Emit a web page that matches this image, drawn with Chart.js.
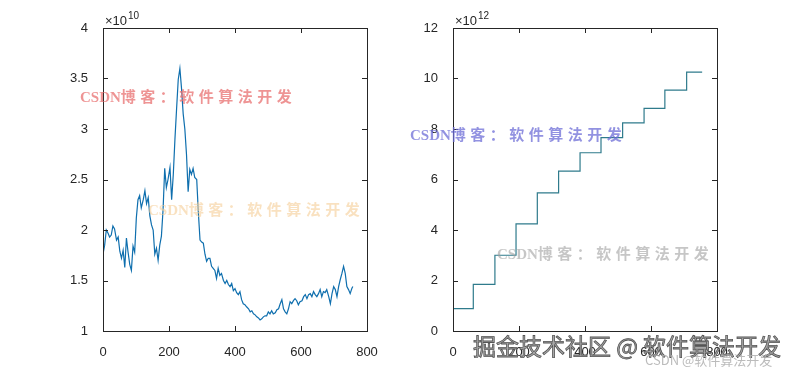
<!DOCTYPE html>
<html>
<head>
<meta charset="utf-8">
<script src="https://cdn.jsdelivr.net/npm/chart.js@4"></script>
<style>
	body { margin: 0; background: #fff; }
	#wrap { position: relative; width: 793px; height: 372px; overflow: hidden; }
	.box { position: absolute; top: 0; height: 372px; }
	.wm { position: absolute; white-space: nowrap; line-height: 1; pointer-events: none;
		font-family: "Liberation Serif", "Noto Sans CJK SC", serif; font-weight: bold; font-size: 15px; letter-spacing: 4.5px; }
	.wm span { letter-spacing: 0; }
	.big { position: absolute; white-space: nowrap; line-height: 1; pointer-events: none;
		font-family: "Noto Sans CJK SC", sans-serif; }
</style>
</head>
<body>
<div id="wrap">
	<div class="box" style="left:0;width:396px;"><canvas id="chartLeft" width="396" height="372"></canvas></div>
	<div class="box" style="left:396px;width:397px;"><canvas id="chartRight" width="397" height="372"></canvas></div>

	<div class="wm" style="left:80px;top:90px;color:rgba(232,112,112,0.75);"><span>CSDN</span>博客：软件算法开发</div>
	<div class="wm" style="left:148px;top:203px;color:rgba(245,205,150,0.6);"><span>CSDN</span>博客：软件算法开发</div>
	<div class="wm" style="left:410px;top:128px;color:rgba(110,110,215,0.75);"><span>CSDN</span>博客：软件算法开发</div>
	<div class="wm" style="left:497px;top:247px;color:rgba(160,160,160,0.6);"><span>CSDN</span>博客：软件算法开发</div>
	<div class="big" style="left:473px;top:334px;font-size:23px;color:#a8a8a8;-webkit-text-stroke:0.8px #555;">掘金技术社区 @ 软件算法开发</div>
	<div class="big" style="left:645px;top:353px;font-size:13px;color:rgba(175,175,175,0.85);">CSDN @软件算法开发</div>
</div>

<script>
// left series: x (index) and value in units of 1e10
var seriesX = [0, 5, 10, 15, 20, 25, 30, 35, 41, 46, 51, 56, 61, 66, 71, 76, 81, 86, 91, 96,
	101, 106, 111, 116, 122, 127, 132, 137, 142, 147, 152, 157, 162, 167, 172, 177, 182, 187, 192, 197,
	203, 208, 213, 218, 223, 228, 233, 238, 243, 248, 253, 258, 263, 268, 273, 278, 284, 289, 294, 299,
	304, 309, 314, 319, 324, 329, 334, 339, 344, 349, 354, 359, 365, 370, 375, 380, 385, 390, 395, 400,
	405, 410, 415, 420, 425, 430, 435, 441, 446, 451, 456, 461, 466, 471, 476, 481, 486, 491, 496, 501,
	506, 511, 516, 522, 527, 532, 537, 542, 547, 552, 557, 562, 567, 572, 577, 582, 587, 592, 597, 603,
	608, 613, 618, 623, 628, 633, 638, 643, 648, 653, 658, 663, 668, 673, 678, 684, 689, 694, 699, 704,
	709, 714, 719, 724, 729, 734, 739, 744, 749, 754, 757];
var seriesY = [1.76, 1.85, 2.00, 1.97, 1.93, 1.95, 2.04, 2.01, 1.90, 1.93, 1.79, 1.72, 1.80, 1.63, 1.92, 1.78, 1.66, 1.60, 1.84, 1.78,
	2.12, 2.30, 2.34, 2.22, 2.30, 2.39, 2.26, 2.32, 2.14, 2.05, 2.00, 1.76, 1.82, 1.70, 1.85, 1.94, 2.20, 2.61, 2.42, 2.50,
	2.62, 2.30, 2.55, 2.90, 3.20, 3.49, 3.60, 3.40, 3.15, 3.00, 2.75, 2.38, 2.60, 2.55, 2.61, 2.52, 2.50, 2.17, 1.90, 1.88,
	1.87, 1.76, 1.69, 1.72, 1.72, 1.64, 1.62, 1.60, 1.52, 1.62, 1.55, 1.57, 1.50, 1.47, 1.50, 1.46, 1.44, 1.47, 1.40, 1.42,
	1.38, 1.36, 1.39, 1.31, 1.27, 1.26, 1.24, 1.22, 1.19, 1.20, 1.17, 1.16, 1.14, 1.13, 1.11, 1.12, 1.14, 1.15, 1.15, 1.19,
	1.17, 1.20, 1.17, 1.18, 1.21, 1.22, 1.27, 1.31, 1.22, 1.19, 1.17, 1.22, 1.29, 1.27, 1.30, 1.32, 1.30, 1.26, 1.29, 1.30,
	1.34, 1.36, 1.32, 1.36, 1.37, 1.34, 1.39, 1.36, 1.34, 1.37, 1.41, 1.34, 1.39, 1.38, 1.41, 1.34, 1.27, 1.37, 1.44, 1.41,
	1.34, 1.44, 1.51, 1.57, 1.64, 1.57, 1.44, 1.41, 1.37, 1.42, 1.44];

// right series: cumulative steps, value in units of 1e12
var stepX = [0, 61.5, 127, 191, 255.5, 320, 385, 448.5, 514, 579, 642, 708, 755];
var stepY = [0.89, 1.85, 3.0, 4.24, 5.47, 6.33, 7.06, 7.66, 8.24, 8.82, 9.54, 10.25, 10.25];

var xTicks = [0, 200, 400, 600, 800];
var leftYRange = [1, 4, 0.5];
var rightYRange = [0, 12, 2];

var axisColor = '#262626';
var tickFont = { family: 'Liberation Sans, Arial, sans-serif', size: 13 };

function toPoints(xs, ys) {
	var pts = [];
	for (var i = 0; i < xs.length; i++) {
		pts.push({ x: xs[i], y: ys[i] });
	}
	return pts;
}

// matlab style box with inward ticks and the exponent label
function boxPlugin(exponent) {
	return {
		id: 'matlabBox',
		afterDraw: function (chart) {
			var ctx = chart.ctx;
			var a = chart.chartArea;
			var len = 5;
			ctx.save();
			ctx.strokeStyle = axisColor;
			ctx.lineWidth = 1;
			ctx.strokeRect(Math.round(a.left) + 0.5, Math.round(a.top) + 0.5, Math.round(a.right - a.left), Math.round(a.bottom - a.top));
			ctx.beginPath();
			chart.scales.x.ticks.forEach(function (t) {
				var px = Math.round(chart.scales.x.getPixelForValue(t.value)) + 0.5;
				ctx.moveTo(px, a.bottom); ctx.lineTo(px, a.bottom - len);
				ctx.moveTo(px, a.top); ctx.lineTo(px, a.top + len);
			});
			chart.scales.y.ticks.forEach(function (t) {
				var py = Math.round(chart.scales.y.getPixelForValue(t.value)) + 0.5;
				ctx.moveTo(a.left, py); ctx.lineTo(a.left + len, py);
				ctx.moveTo(a.right, py); ctx.lineTo(a.right - len, py);
			});
			ctx.stroke();
			ctx.fillStyle = axisColor;
			ctx.textBaseline = 'alphabetic';
			ctx.font = '13px Liberation Sans, Arial, sans-serif';
			ctx.fillText('×10', a.left + 2, a.top - 3);
			var w = ctx.measureText('×10').width;
			ctx.font = '10px Liberation Sans, Arial, sans-serif';
			ctx.fillText(exponent, a.left + 2 + w + 1, a.top - 9);
			ctx.restore();
		}
	};
}

function plainLabel(value) {
	return String(Math.round(value * 10) / 10);
}

function makeChart(id, points, color, yRange, yWidth, rightPad, exponent, stepped) {
	var ctx = document.getElementById(id);
	return new Chart(ctx, {
		type: 'line',
		data: {
			datasets: [
				{
					data: points,
					borderColor: color,
					borderWidth: 1.2,
					pointRadius: 0,
					fill: false,
					tension: 0,
					stepped: stepped,
				},
			],
		},
		options: {
			responsive: false,
			animation: false,
			devicePixelRatio: 1,
			layout: { padding: { top: 28, right: rightPad, left: 0, bottom: 0 } },
			plugins: { legend: { display: false }, tooltip: { enabled: false } },
			scales: {
				x: {
					type: 'linear',
					min: 0,
					max: 800,
					afterBuildTicks: function (scale) {
						scale.ticks = xTicks.map(function (v) { return { value: v }; });
					},
					grid: { display: false },
					border: { display: false },
					ticks: { color: axisColor, font: tickFont, padding: 6, maxRotation: 0, callback: plainLabel },
					afterFit: function (scale) { scale.height = 41; },
				},
				y: {
					type: 'linear',
					min: yRange[0],
					max: yRange[1],
					grid: { display: false },
					border: { display: false },
					ticks: { stepSize: yRange[2], color: axisColor, font: tickFont, padding: 7, callback: plainLabel },
					afterFit: function (scale) { scale.width = yWidth; },
				},
			},
		},
		plugins: [boxPlugin(exponent)],
	});
}

makeChart('chartLeft', toPoints(seriesX, seriesY), '#0f6fae', leftYRange, 103, 29, '10', false);
makeChart('chartRight', toPoints(stepX, stepY), '#2f7b8c', rightYRange, 57, 76, '12', 'before');
</script>
</body>
</html>
